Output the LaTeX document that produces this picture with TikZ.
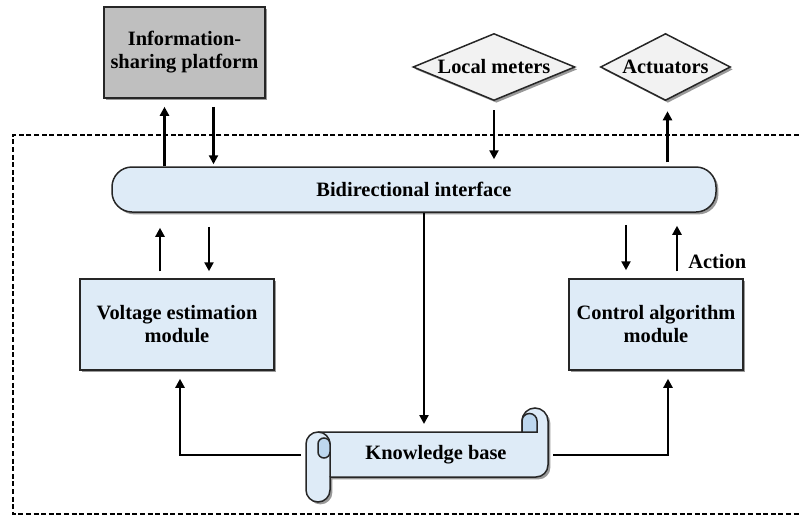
\documentclass[tikz,border=0pt]{standalone}
\usepackage{fontspec}
\setmainfont{Liberation Serif}
\usepackage{xcolor}
\usepackage{tikz}
\usetikzlibrary{arrows.meta,positioning,calc,shapes.geometric,shadows}

\definecolor{paleblue}{RGB}{222,235,247}
\definecolor{curlblue}{RGB}{189,215,238}
\definecolor{platgray}{RGB}{191,191,191}
\definecolor{metergray}{RGB}{242,242,242}

\begin{document}
\begin{tikzpicture}[x=0.5pt,y=-0.5pt,
  font=\bfseries\fontsize{10.2}{11.5}\selectfont,
  shad/.style={drop shadow={shadow xshift=1.2pt,shadow yshift=-1.2pt,opacity=0.4,fill=black}},
  box/.style={draw=black!85,line width=0.75pt,fill=paleblue,shad,align=center,inner sep=0pt},
  dia/.style={diamond,aspect=2.4,draw=black!85,line width=0.75pt,fill=metergray,shad,inner sep=0pt,minimum height=33.5pt},
  arr/.style={-{Triangle[length=4.5pt,width=4.5pt]},line width=1.3pt},
  frame/.style={line width=0.9pt,dash pattern=on 2.5pt off 1.3pt}]
\useasboundingbox (0,0) rectangle (799,515);

% boundary of the local controller
\draw[frame] (799,135) -- (13,135) -- (13,514) -- (799,514);

\node[box,fill=platgray,minimum width=80.5pt,minimum height=45.5pt] (bxInfo) at (184.5,52.5) {Information-\\sharing platform};
\node[dia,minimum width=81pt] (bxMeter) at (494,67) {Local meters};
\node[dia,minimum width=65pt,right=12pt of bxMeter] (bxAct) {Actuators};
\node[box,rounded corners=10pt,minimum width=302pt,minimum height=22.5pt] (bxIface) at (414,189.5) {Bidirectional interface};
\node[box,minimum width=97pt,minimum height=45.5pt] (bxVolt) at (177,324.5) {Voltage estimation\\module};
\node[box,minimum width=87pt,minimum height=45.5pt] (bxCtrl) at (656,324.5) {Control algorithm\\module};

% knowledge base scroll
\draw[draw=black!85,line width=0.75pt,fill=paleblue,shad]
  (330,477) -- (536,477) arc[start angle=90,end angle=0,radius=12]
  -- (548,421) arc[start angle=0,end angle=-180,radius=13]
  -- (522,432) -- (318,432) arc[start angle=-90,end angle=-180,radius=12]
  -- (306,490) arc[start angle=180,end angle=0,radius=12] -- cycle;
\draw[line width=0.75pt,draw=black!85] (318,432) arc[start angle=-90,end angle=0,radius=12] -- (330,477);
\draw[line width=0.75pt,draw=black!85,fill=curlblue]
  (330,444) arc[start angle=0,end angle=-180,radius=6] -- (318,452)
  arc[start angle=180,end angle=0,radius=6] -- cycle;
\draw[line width=0.75pt,draw=black!85,fill=curlblue]
  (522,432) -- (522,421) arc[start angle=180,end angle=360,radius=7.5] -- (537,432) -- cycle;
\node (bxKb) at (436,455) {Knowledge base};
\coordinate (kbL) at (301,455);
\coordinate (kbR) at (553,455);
\coordinate (kbT) at (424,424);

% links to the outside
\draw[arr,shorten >=4pt] ([xshift=-10pt]bxInfo.south |- bxIface.north) -- ([xshift=-10pt]bxInfo.south);
\draw[arr,shorten <=4pt,shorten >=1pt] ([xshift=14.5pt]bxInfo.south) -- ([xshift=14.5pt]bxInfo.south |- bxIface.north);
\draw[arr,shorten <=4.5pt,shorten >=3.5pt] (bxMeter.south) -- (bxMeter.south |- bxIface.north);
\draw[arr,shorten <=2pt,shorten >=5pt] ([xshift=1pt]bxAct.south |- bxIface.north) -- ([xshift=1pt]bxAct.south);

% interface <-> modules
\draw[arr,shorten <=3.5pt,shorten >=7.5pt] ([xshift=-8.5pt]bxVolt.north) -- ([xshift=-8.5pt]bxVolt.north |- bxIface.south);
\draw[arr,shorten <=7pt,shorten >=3.5pt] ([xshift=16pt]bxVolt.north |- bxIface.south) -- ([xshift=16pt]bxVolt.north);
\draw[arr,shorten <=6pt,shorten >=4pt] ([xshift=-15pt]bxCtrl.north |- bxIface.south) -- ([xshift=-15pt]bxCtrl.north);
\draw[arr,shorten <=3.5pt,shorten >=6.5pt] ([xshift=10.5pt]bxCtrl.north)
  -- node[pos=0.25,right=5pt,inner sep=0pt] (lbAct) {Action} ([xshift=10.5pt]bxCtrl.north |- bxIface.south);

% knowledge base links
\draw[arr] (bxIface.south -| kbT) -- (kbT);
\draw[arr,shorten >=4pt] (kbL) -| ([xshift=1.5pt]bxVolt.south);
\draw[arr,shorten >=4pt] (kbR) -| ([xshift=6pt]bxCtrl.south);
\end{tikzpicture}
\end{document}
